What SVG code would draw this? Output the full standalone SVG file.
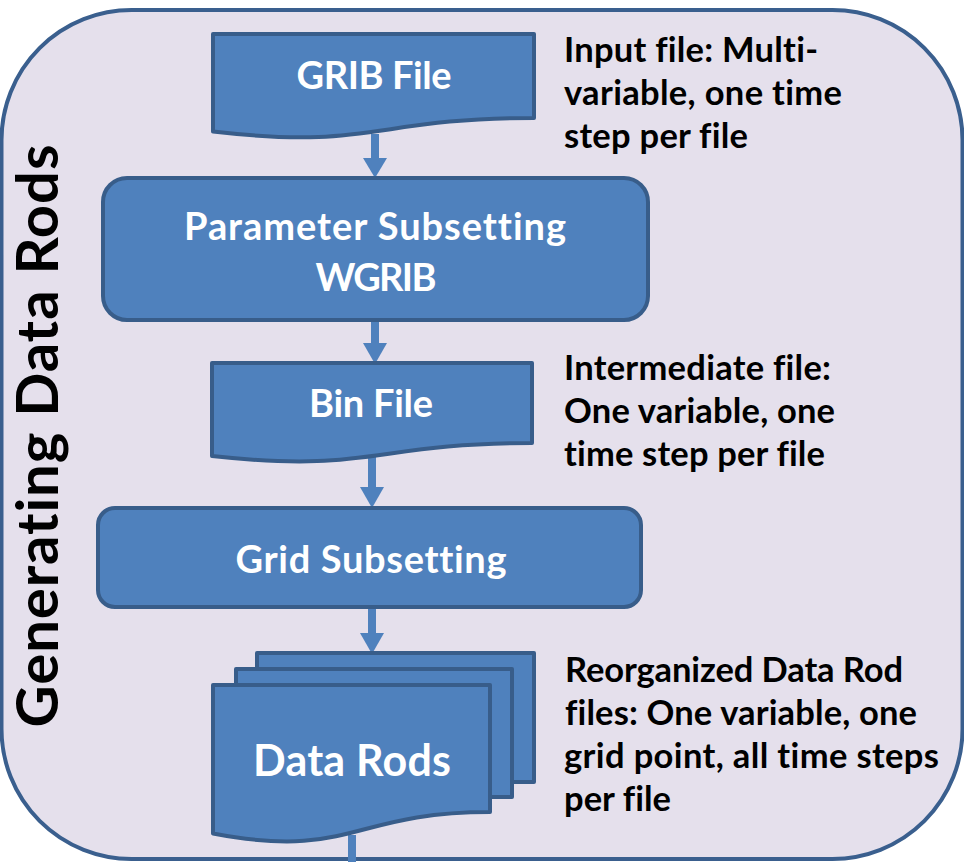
<svg xmlns="http://www.w3.org/2000/svg" width="964" height="862" viewBox="0 0 964 862">
  <style>
    text { font-variant-ligatures: none; font-feature-settings: "liga" 0, "clig" 0; }
    .frame { fill: #e5e0ec; stroke: #3a5f8e; stroke-width: 4; }
    .node { fill: #4f81bd; stroke: #385d8a; stroke-width: 4; stroke-linejoin: round; }
    .label { font-family: Lato, "Open Sans", "Liberation Sans", sans-serif; font-weight: bold; fill: #ffffff; text-anchor: middle; font-size: 38px; }
    .note { font-family: Lato, "Open Sans", "Liberation Sans", sans-serif; font-weight: bold; fill: #000000; font-size: 34.5px; }
    .title { font-family: Lato, "Open Sans", "Liberation Sans", sans-serif; font-weight: bold; fill: #000000; font-size: 58px; text-anchor: middle; }
    .link { stroke: #4f81bd; stroke-width: 8; fill: none; }
    .head { fill: #4f81bd; }
  </style>

  <!-- Container -->
  <rect class="frame" x="1.5" y="10" width="961" height="849" rx="130" ry="130"/>
  <text class="title" transform="translate(58,436) rotate(-90)" textLength="583">Generating Data Rods</text>

  <!-- Connectors -->
  <g id="connectors">
    <line class="link" x1="375" y1="134" x2="375" y2="160"/>
    <polygon class="head" points="363,158 387,158 375,178"/>
    <line class="link" x1="375" y1="318" x2="375" y2="345"/>
    <polygon class="head" points="363,343 387,343 375,364"/>
    <line class="link" x1="372" y1="452" x2="372" y2="490"/>
    <polygon class="head" points="360,487 384,487 372,508"/>
    <line class="link" x1="372" y1="605" x2="372" y2="636"/>
    <polygon class="head" points="360,633 384,633 372,654"/>
    <line class="link" x1="352" y1="835" x2="352" y2="866"/>
  </g>

  <!-- Nodes -->
  <g id="grib-file">
    <path class="node" d="M213,34 H534 V118 C373.5,118 373.5,150 213,131.5 Z"/>
    <text class="label" x="374" y="89" textLength="155">GRIB File</text>
  </g>

  <g id="parameter-subsetting">
    <rect class="node" x="103" y="178" width="545" height="142" rx="24" ry="24"/>
    <text class="label" x="375" y="240" textLength="382">Parameter Subsetting</text>
    <text class="label" x="376" y="291" textLength="121">WGRIB</text>
  </g>

  <g id="bin-file">
    <path class="node" d="M212,363 H532 V443 C372,443 372,473.5 212,456 Z"/>
    <text class="label" x="371" y="417" textLength="124">Bin File</text>
  </g>

  <g id="grid-subsetting">
    <rect class="node" x="98" y="508" width="543" height="99" rx="17" ry="17"/>
    <text class="label" x="371" y="573" textLength="271">Grid Subsetting</text>
  </g>

  <g id="data-rods">
    <rect class="node" x="257" y="653" width="277" height="129"/>
    <rect class="node" x="236" y="669" width="276" height="128"/>
    <path class="node" d="M213,685 H490 V812 C351.5,812 351.5,860 213,833.5 Z"/>
    <text class="label" x="352" y="776" style="font-size:43px" textLength="198">Data Rods</text>
  </g>

  <!-- Annotations -->
  <g id="note-input">
    <text class="note" x="564" y="62" textLength="254">Input file: Multi-</text>
    <text class="note" x="564" y="105" textLength="278">variable, one time</text>
    <text class="note" x="564" y="148" textLength="184">step per file</text>
  </g>
  <g id="note-intermediate">
    <text class="note" x="564" y="380" textLength="267">Intermediate file:</text>
    <text class="note" x="564" y="423" textLength="271">One variable, one</text>
    <text class="note" x="564" y="466" textLength="261">time step per file</text>
  </g>
  <g id="note-rods">
    <text class="note" x="565" y="682" textLength="338">Reorganized Data Rod</text>
    <text class="note" x="565" y="725" textLength="352">files: One variable, one</text>
    <text class="note" x="564" y="768" textLength="375">grid point, all time steps</text>
    <text class="note" x="564" y="811" textLength="107">per file</text>
  </g>
</svg>
